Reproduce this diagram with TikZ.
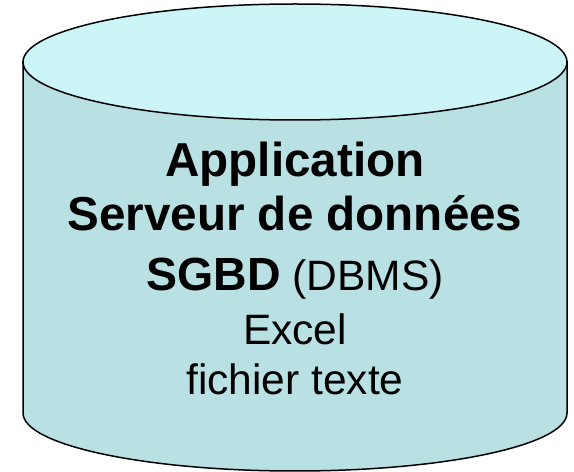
\documentclass[tikz,border=0pt]{standalone}
\usepackage{fontspec}
\setmainfont{Liberation Sans}
\usepackage{tikz}
\usetikzlibrary{positioning}
\definecolor{dbtop}{HTML}{CCF5F7}
\definecolor{dbbody}{HTML}{B9E0E3}
\tikzset{
    every node/.style={inner sep=0pt,anchor=base},
    dbline/.style={draw=black,line width=1.5pt},
    boldline/.style={font=\fontsize{47.6}{50}\selectfont\bfseries},
    plainline/.style={font=\fontsize{42.5}{45}\selectfont}
}

\begin{document}
\begin{tikzpicture}[x=1pt,y=1pt]
\useasboundingbox (0,0) rectangle (574,472);
% body of the cylinder
\path[dbline,fill=dbbody] (23,410) -- (23,59)
    arc[start angle=180,end angle=360,x radius=272,y radius=58]
    -- (567,410) -- cycle;
% lid
\path[dbline,fill=dbtop] (295,410) ellipse[x radius=272,y radius=58];
% labels
\node[boldline] (app) at (295,295) {Application};
\node[boldline] (server) at (295,241) {Serveur de donn\'ees};
\node[plainline] (sgbd) at (295,181) {{\fontsize{46.5}{50}\selectfont\bfseries SGBD} (DBMS)};
\node[plainline] (excel) at (295,127) {Excel};
\node[plainline] (txtfile) at (295,77) {fichier texte};
\end{tikzpicture}
\end{document}
